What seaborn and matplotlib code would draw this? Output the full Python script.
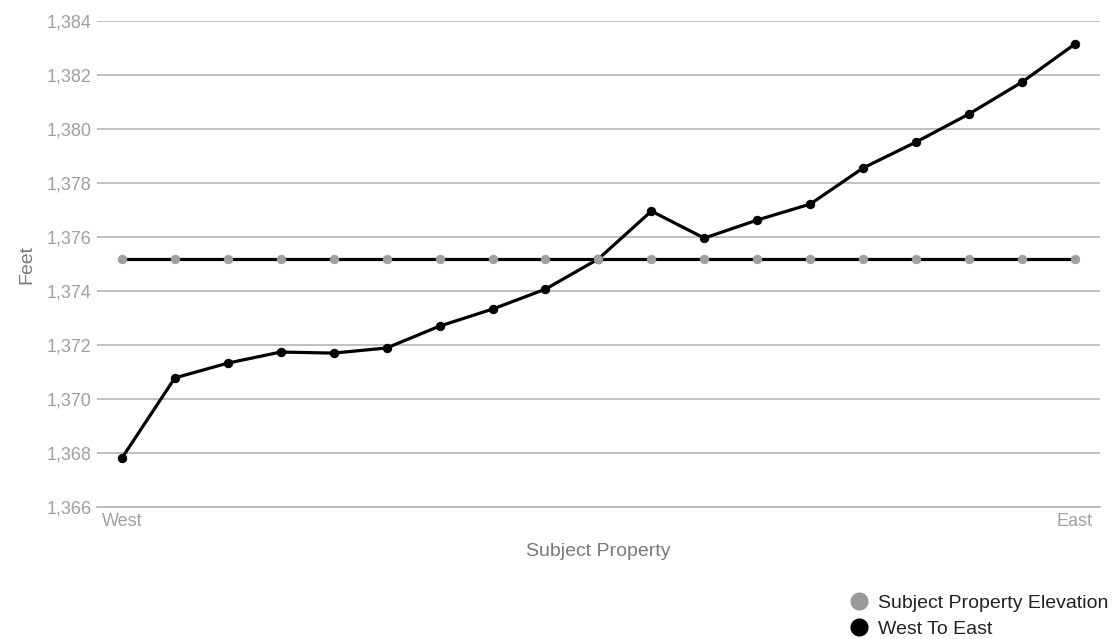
import matplotlib
matplotlib.use("Agg")
import matplotlib.pyplot as plt
from matplotlib.lines import Line2D
import seaborn as sns
import pandas as pd
import numpy as np

positions = list(range(19))
west_to_east = [1367.81, 1370.78, 1371.33, 1371.74, 1371.70, 1371.89, 1372.70, 1373.33,
                1374.07, 1375.19, 1376.96, 1375.96, 1376.63, 1377.22, 1378.56, 1379.52,
                1380.56, 1381.74, 1383.15]
subject_elev = [1375.19] * 19
x_tick_labels = ["West", "East"]
y_ticks = [1366, 1368, 1370, 1372, 1374, 1376, 1378, 1380, 1382, 1384]

sns.set_theme(style="white")
plt.rcParams['font.family'] = ['Liberation Sans', 'DejaVu Sans']

fig = plt.figure(figsize=(11.2, 6.39), dpi=100)
ax = fig.add_axes([0.0866, 0.2066, 0.8954, 0.7604])

df_w = pd.DataFrame({"pos": positions, "val": west_to_east})
df_s = pd.DataFrame({"pos": positions, "val": subject_elev})

sns.lineplot(data=df_w, x="pos", y="val", ax=ax, color="black", linewidth=2.3,
             marker="o", markersize=6, markerfacecolor="black", markeredgecolor="black", zorder=3)
sns.lineplot(data=df_s, x="pos", y="val", ax=ax, color="black", linewidth=2.3,
             marker="o", markersize=6, markerfacecolor="#a0a0a0", markeredgecolor="#a0a0a0", zorder=4)

ax.set_ylim(1366, 1384)
ax.set_xlim(-0.47, 18.47)
ax.set_yticks(y_ticks)
ax.set_yticklabels([f"{v:,}" for v in y_ticks], color="#a0a0a0", fontsize=13)
ax.set_xticks([0, 18])
ax.set_xticklabels(x_tick_labels, color="#a0a0a0", fontsize=13)
ax.tick_params(axis="both", length=0, pad=4)
ax.yaxis.grid(True, color="#b5b5b5", linewidth=1.2)
for s in ["top", "right", "left"]:
    ax.spines[s].set_visible(False)
ax.spines["bottom"].set_color("#b5b5b5")
ax.spines["bottom"].set_linewidth(1.2)

ax.set_xlabel("Subject Property", color="#7a7a7a", fontsize=14, labelpad=10)
ax.set_ylabel("Feet", color="#7a7a7a", fontsize=14, labelpad=8)

handles = [Line2D([], [], linestyle="none", marker="o", markersize=12,
                  markerfacecolor="#999999", markeredgecolor="#999999"),
           Line2D([], [], linestyle="none", marker="o", markersize=12,
                  markerfacecolor="black", markeredgecolor="black")]
fig.legend(handles, ["Subject Property Elevation", "West To East"],
           loc="lower right", bbox_to_anchor=(1.0, -0.016), frameon=False,
           fontsize=14, handletextpad=0.0, labelspacing=0.4, borderaxespad=0.2,
           labelcolor="#222222")

fig.savefig("out.png", dpi=100)
